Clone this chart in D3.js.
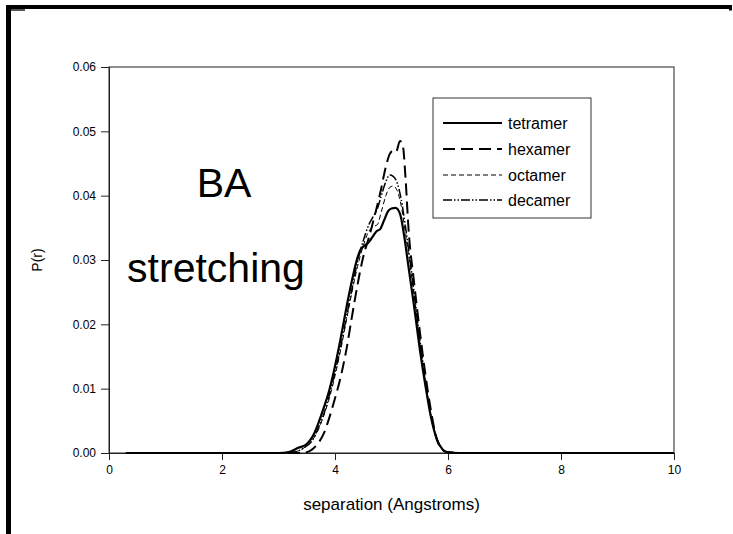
<!DOCTYPE html>
<html>
<head>
<meta charset="utf-8">
<script src="https://cdn.jsdelivr.net/npm/d3@7/dist/d3.min.js"></script>
<style>
  html, body { margin: 0; padding: 0; background: #fff; }
  svg { display: block; }
  text { font-family: "Liberation Sans", Arial, sans-serif; fill: #000; }
</style>
</head>
<body>
<svg id="chart" width="733" height="534"></svg>
<script>
// ---- data ----
const seriesNames = ["tetramer", "hexamer", "octamer", "decamer"];
const xTicks = [0, 2, 4, 6, 8, 10];
const yTicks = [0.00, 0.01, 0.02, 0.03, 0.04, 0.05, 0.06];

const tetramerX = [0.3, 1, 2, 3, 3.2, 3.35, 3.5, 3.6, 3.7, 3.8, 3.9, 4.0, 4.1, 4.2, 4.3, 4.38, 4.45, 4.52, 4.6, 4.68, 4.74, 4.8, 4.87, 4.94, 5.0, 5.07, 5.15, 5.22, 5.3, 5.4, 5.5, 5.6, 5.7, 5.8, 5.9, 6.0, 6.2, 7, 8, 9, 10];
const tetramerY = [0, 0, 0, 0, 0.0002, 0.0008, 0.0014, 0.0025, 0.0045, 0.007, 0.0098, 0.0135, 0.0178, 0.0225, 0.0268, 0.0298, 0.0316, 0.0322, 0.0328, 0.0338, 0.0345, 0.0348, 0.0362, 0.0376, 0.038, 0.0381, 0.0372, 0.034, 0.029, 0.0228, 0.0162, 0.0105, 0.0055, 0.0022, 0.0006, 0.0001, 0, 0, 0, 0, 0];

const hexamerX = [0.3, 1, 2, 3, 3.4, 3.55, 3.7, 3.8, 3.9, 4.0, 4.1, 4.2, 4.3, 4.4, 4.5, 4.6, 4.7, 4.8, 4.9, 4.97, 5.03, 5.08, 5.15, 5.2, 5.25, 5.3, 5.4, 5.5, 5.6, 5.7, 5.8, 5.9, 6.0, 6.2, 7, 8, 9, 10];
const hexamerY = [0, 0, 0, 0, 0, 0.0003, 0.0015, 0.003, 0.0055, 0.0085, 0.0118, 0.016, 0.0212, 0.0262, 0.0305, 0.0335, 0.0368, 0.0404, 0.0445, 0.0465, 0.047, 0.0468, 0.0485, 0.0478, 0.0425, 0.035, 0.0265, 0.019, 0.0122, 0.0065, 0.0022, 0.0005, 0.0001, 0, 0, 0, 0, 0];

const octamerX = [0.3, 1, 2, 3, 3.3, 3.45, 3.6, 3.7, 3.8, 3.9, 4.0, 4.1, 4.2, 4.3, 4.4, 4.5, 4.6, 4.68, 4.75, 4.82, 4.9, 4.97, 5.03, 5.1, 5.17, 5.25, 5.3, 5.4, 5.5, 5.6, 5.7, 5.8, 5.9, 6.0, 6.2, 7, 8, 9, 10];
const octamerY = [0, 0, 0, 0, 0.0002, 0.0008, 0.002, 0.0035, 0.0058, 0.0085, 0.012, 0.016, 0.0205, 0.025, 0.029, 0.0322, 0.0345, 0.0352, 0.0355, 0.0375, 0.040, 0.0413, 0.0415, 0.0408, 0.0385, 0.034, 0.031, 0.0245, 0.0175, 0.011, 0.0058, 0.0022, 0.0006, 0.0001, 0, 0, 0, 0, 0];

const decamerX = [0.3, 1, 2, 3, 3.3, 3.45, 3.6, 3.7, 3.8, 3.9, 4.0, 4.1, 4.2, 4.3, 4.4, 4.5, 4.6, 4.68, 4.75, 4.82, 4.9, 4.97, 5.03, 5.1, 5.17, 5.25, 5.3, 5.4, 5.5, 5.6, 5.7, 5.8, 5.9, 6.0, 6.2, 7, 8, 9, 10];
const decamerY = [0, 0, 0, 0, 0.0002, 0.0008, 0.002, 0.0038, 0.006, 0.009, 0.0125, 0.0165, 0.021, 0.0255, 0.0298, 0.033, 0.0355, 0.0368, 0.038, 0.040, 0.0422, 0.0432, 0.043, 0.042, 0.0395, 0.035, 0.0318, 0.025, 0.0178, 0.0112, 0.0058, 0.0022, 0.0006, 0.0001, 0, 0, 0, 0, 0];

const xTitle = "separation (Angstroms)";
const yTitle = "P(r)";
const annotation1 = "BA";
const annotation2 = "stretching";

// ---- build ----
const series = [
  {name: seriesNames[0], xs: tetramerX, ys: tetramerY, width: 2.2, dash: null},
  {name: seriesNames[1], xs: hexamerX, ys: hexamerY, width: 2, dash: "12,6"},
  {name: seriesNames[2], xs: octamerX, ys: octamerY, width: 1, dash: "5,3"},
  {name: seriesNames[3], xs: decamerX, ys: decamerY, width: 1.5, dash: "9,2,1.5,2,1.5,2"}
];

const svg = d3.select("#chart");
const pLeft = 109, pRight = 674, pTop = 67, pBottom = 453;
const x = d3.scaleLinear().domain([0, 10]).range([pLeft, pRight]);
const y = d3.scaleLinear().domain([0, 0.06]).range([pBottom, pTop]);

// outer frame (slide border)
svg.append("rect").attr("x", 6).attr("y", 5).attr("width", 726).attr("height", 4).attr("fill", "#000");
svg.append("rect").attr("x", 6).attr("y", 5).attr("width", 5).attr("height", 529).attr("fill", "#000");
svg.append("rect").attr("x", 11).attr("y", 9).attr("width", 14).attr("height", 2).attr("fill", "#555");
svg.append("rect").attr("x", 729).attr("y", 9).attr("width", 3).attr("height", 1.5).attr("fill", "#000");

// plot frame
svg.append("rect").attr("x", pLeft).attr("y", pTop).attr("width", pRight - pLeft).attr("height", pBottom - pTop)
  .attr("fill", "none").attr("stroke", "#222").attr("stroke-width", 1);

// axes
const xAxis = d3.axisBottom(x).tickValues(xTicks).tickSize(7).tickPadding(5).tickFormat(d3.format("d"));
const yAxis = d3.axisLeft(y).tickValues(yTicks).tickSize(8).tickPadding(5).tickFormat(d3.format(".2f"));
const gx = svg.append("g").attr("transform", `translate(0,${pBottom})`).call(xAxis);
const gy = svg.append("g").attr("transform", `translate(${pLeft},0)`).call(yAxis);
[gx, gy].forEach(g => {
  g.select(".domain").attr("stroke", "#222");
  g.selectAll(".tick line").attr("stroke", "#222");
  g.selectAll(".tick text").attr("font-size", 12).attr("font-family", "Liberation Sans, Arial, sans-serif").attr("fill", "#000");
});

svg.append("text").attr("x", (pLeft + pRight) / 2).attr("y", 510).attr("text-anchor", "middle")
  .attr("font-size", 17).text(xTitle);
svg.append("text").attr("transform", `translate(42,${(pTop + pBottom) / 2}) rotate(-90)`).attr("text-anchor", "middle")
  .attr("font-size", 14).text(yTitle);

// annotations
svg.append("text").attr("x", 224).attr("y", 197).attr("text-anchor", "middle")
  .attr("font-family", "Lato, 'Open Sans', sans-serif").attr("font-size", 41).text(annotation1);
svg.append("text").attr("x", 216).attr("y", 282).attr("text-anchor", "middle")
  .attr("font-family", "Lato, 'Open Sans', sans-serif").attr("font-size", 41).text(annotation2);

// lines
const line = d3.line().x(d => x(d[0])).y(d => y(d[1])).curve(d3.curveMonotoneX);
series.forEach(s => {
  const pts = s.xs.map((v, i) => [v, s.ys[i]]);
  svg.append("path").datum(pts).attr("d", line).attr("fill", "none").attr("stroke", "#000")
    .attr("stroke-width", s.width).attr("stroke-dasharray", s.dash).attr("stroke-linejoin", "round");
});

// legend
const lg = svg.append("g");
lg.append("rect").attr("x", 433).attr("y", 98).attr("width", 158).attr("height", 120)
  .attr("fill", "#fff").attr("stroke", "#333").attr("stroke-width", 1);
const rowY = [123, 149, 175, 200];
series.forEach((s, i) => {
  lg.append("line").attr("x1", 443).attr("x2", 502).attr("y1", rowY[i]).attr("y2", rowY[i])
    .attr("stroke", "#000").attr("stroke-width", s.width).attr("stroke-dasharray", s.dash);
  lg.append("text").attr("x", 508).attr("y", rowY[i] + 6).attr("font-size", 16).text(s.name);
});
</script>
</body>
</html>
